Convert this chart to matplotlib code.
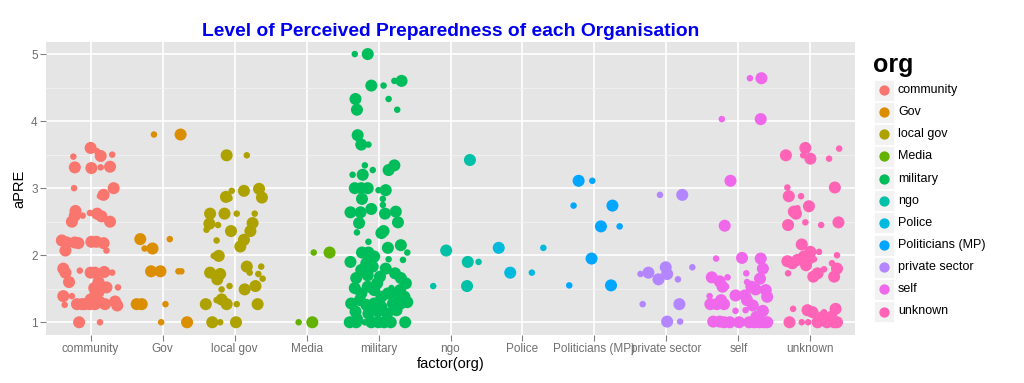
import numpy as np
import matplotlib
matplotlib.use("Agg")
import matplotlib.pyplot as plt
from matplotlib.patches import Rectangle

plt.rcParams['font.family'] = ['Liberation Sans', 'DejaVu Sans']

#   Organisations, in factor order, with the ggplot hue palette
orgs = ['community', 'Gov', 'local gov', 'Media', 'military', 'ngo', 'Police',
        'Politicians (MP)', 'private sector', 'self', 'unknown']
colors = ['#F8766D', '#DB8E00', '#AEA200', '#64B200', '#00BD5C', '#00C1A7',
          '#00BADE', '#00A6FF', '#B385FF', '#EF67EB', '#FF63B6']

#   Points: (jitter offset from category, aPRE, size group)
community = [
    (0.00, 3.60, 2), (0.14, 3.48, 2), (0.09, 3.55, 1), (0.30, 3.50, 1), (-0.24, 3.47, 1),
    (-0.22, 3.31, 2), (0.01, 3.30, 2), (0.14, 3.31, 1), (0.27, 3.32, 2), (-0.23, 3.00, 1),
    (0.32, 3.00, 2), (0.18, 2.90, 2), (0.13, 2.88, 1), (-0.21, 2.66, 2), (-0.22, 2.59, 2),
    (-0.26, 2.50, 2), (-0.11, 2.59, 1), (-0.01, 2.63, 1), (0.09, 2.62, 2), (0.15, 2.58, 2),
    (0.27, 2.50, 2), (-0.40, 2.22, 2), (-0.33, 2.19, 2), (-0.22, 2.19, 2), (-0.17, 2.18, 2),
    (-0.35, 2.07, 2), (0.01, 2.20, 2), (0.08, 2.20, 2), (0.18, 2.18, 2), (0.22, 2.07, 1),
    (-0.38, 1.80, 2), (-0.35, 1.74, 2), (-0.30, 1.60, 2), (-0.15, 1.77, 1), (0.00, 1.74, 2),
    (0.06, 1.74, 2), (0.19, 1.75, 2), (0.30, 1.74, 1), (0.05, 1.51, 2), (0.11, 1.60, 2),
    (0.22, 1.52, 2), (0.38, 1.52, 1), (-0.38, 1.39, 2), (-0.26, 1.39, 1), (-0.36, 1.26, 1),
    (-0.19, 1.27, 2), (-0.12, 1.27, 2), (-0.08, 1.27, 2), (-0.01, 1.27, 2), (0.06, 1.40, 2),
    (0.06, 1.27, 2), (0.13, 1.30, 2), (0.20, 1.27, 2), (0.34, 1.31, 2), (0.37, 1.25, 2),
    (0.11, 1.45, 2), (0.00, 1.34, 2), (-0.16, 1.00, 2), (0.13, 1.00, 1)]
gov = [
    (-0.12, 3.80, 1), (0.25, 3.80, 2), (-0.31, 2.24, 2), (-0.25, 2.10, 1), (-0.14, 2.10, 2),
    (0.10, 2.24, 1), (-0.16, 1.76, 2), (-0.03, 1.76, 2), (0.22, 1.76, 1), (0.26, 1.76, 1),
    (-0.36, 1.27, 2), (-0.29, 1.27, 2), (0.04, 1.27, 1), (-0.02, 1.00, 1), (0.34, 1.00, 2)]
local_gov = [
    (-0.11, 3.49, 2), (0.17, 3.49, 1), (-0.04, 2.96, 1), (0.13, 2.96, 2), (0.34, 2.99, 2),
    (0.38, 2.86, 2), (-0.12, 2.87, 2), (-0.07, 2.85, 1), (-0.34, 2.62, 2), (-0.14, 2.62, 2),
    (0.03, 2.62, 1), (0.28, 2.62, 1), (-0.35, 2.47, 2), (-0.39, 2.38, 1), (-0.23, 2.45, 1),
    (-0.05, 2.36, 2), (0.25, 2.48, 2), (0.22, 2.36, 2), (0.13, 2.23, 2), (0.08, 2.13, 2),
    (-0.25, 2.22, 1), (-0.22, 1.99, 2), (-0.29, 1.99, 1), (0.17, 1.83, 2), (0.37, 1.83, 1),
    (0.33, 1.72, 1), (0.39, 1.65, 1), (0.21, 1.74, 1), (-0.34, 1.74, 2), (-0.20, 1.72, 2),
    (-0.24, 1.64, 2), (-0.07, 1.54, 1), (-0.18, 1.49, 1), (0.14, 1.49, 2), (0.29, 1.54, 2),
    (-0.40, 1.27, 2), (-0.25, 1.33, 1), (-0.18, 1.34, 2), (-0.11, 1.27, 2), (0.03, 1.27, 1),
    (0.32, 1.27, 2), (-0.31, 1.00, 2), (-0.20, 1.00, 1), (0.02, 1.00, 2)]
media = [(0.10, 2.04, 1), (0.32, 2.04, 2), (-0.11, 1.00, 1), (0.08, 1.00, 2)]
military = [
    (-0.33, 5.00, 1), (-0.15, 5.00, 2), (-0.10, 4.53, 2), (0.07, 4.53, 1), (0.22, 4.60, 1),
    (0.32, 4.60, 2), (0.14, 4.33, 1), (-0.32, 4.33, 2), (-0.30, 4.17, 2), (0.26, 4.17, 1),
    (-0.29, 3.79, 2), (-0.24, 3.65, 2), (-0.14, 3.65, 1), (0.22, 3.34, 2), (0.14, 3.27, 2),
    (-0.19, 3.34, 1), (-0.08, 3.27, 1), (-0.36, 3.20, 1), (-0.22, 3.20, 2), (-0.33, 3.00, 2),
    (-0.24, 3.00, 2), (-0.15, 3.00, 2), (0.00, 2.97, 1), (0.10, 2.97, 2), (-0.23, 2.84, 2),
    (0.06, 2.84, 1), (0.06, 2.75, 1), (-0.39, 2.64, 2), (-0.25, 2.64, 2), (-0.10, 2.69, 2),
    (0.09, 2.62, 2), (0.24, 2.65, 2), (0.27, 2.49, 2), (-0.27, 2.48, 2), (-0.30, 2.34, 1),
    (0.04, 2.33, 2), (0.07, 2.36, 2), (-0.14, 2.20, 1), (0.31, 2.15, 2), (0.13, 2.11, 2),
    (0.40, 2.04, 1), (0.14, 1.94, 1), (0.34, 1.93, 1), (-0.23, 2.04, 2), (-0.14, 2.04, 2),
    (-0.06, 1.98, 2), (-0.39, 1.90, 2), (-0.17, 1.88, 2), (-0.08, 1.83, 2), (-0.24, 1.78, 2),
    (-0.15, 1.70, 2), (-0.31, 1.66, 2), (0.02, 1.68, 2), (0.23, 1.73, 2), (0.31, 1.66, 2),
    (0.38, 1.58, 2), (0.18, 1.51, 1), (-0.33, 1.51, 2), (-0.24, 1.43, 2), (-0.15, 1.53, 2),
    (-0.06, 1.48, 2), (0.04, 1.38, 2), (0.13, 1.43, 2), (0.24, 1.43, 2), (0.36, 1.38, 2),
    (-0.38, 1.28, 2), (-0.26, 1.33, 2), (-0.17, 1.26, 2), (-0.06, 1.28, 2), (0.04, 1.23, 2),
    (0.20, 1.28, 2), (0.31, 1.28, 2), (0.40, 1.30, 2), (-0.32, 1.16, 2), (-0.14, 1.13, 2),
    (-0.01, 1.16, 2), (0.12, 1.13, 2), (0.25, 1.18, 2), (-0.40, 1.00, 2), (-0.31, 1.00, 2),
    (-0.10, 1.00, 2), (0.00, 1.00, 2), (0.08, 1.00, 2), (0.17, 1.00, 2), (0.37, 1.00, 2),
    (-0.19, 1.00, 1), (0.30, 1.48, 2), (-0.02, 1.58, 2), (0.10, 1.80, 2), (-0.30, 1.05, 2)]
ngo = [(-0.06, 2.07, 2), (-0.24, 1.54, 1), (0.27, 3.42, 2), (0.24, 1.90, 2), (0.39, 1.90, 1),
       (0.23, 1.54, 2)]
police = [(-0.33, 2.11, 2), (0.29, 2.11, 1), (-0.17, 1.74, 2), (0.13, 1.74, 1)]
politicians = [
    (-0.22, 3.11, 2), (-0.03, 3.11, 1), (-0.29, 2.74, 1), (0.25, 2.74, 2), (0.09, 2.43, 2),
    (0.35, 2.43, 1), (-0.04, 1.95, 2), (-0.35, 1.55, 1), (0.23, 1.55, 2)]
private_sector = [
    (-0.09, 2.90, 1), (0.22, 2.90, 2), (-0.36, 1.72, 1), (-0.25, 1.74, 2), (-0.11, 1.64, 2),
    (-0.01, 1.82, 2), (0.01, 1.72, 2), (0.36, 1.82, 1), (0.16, 1.64, 1), (-0.33, 1.27, 1),
    (0.18, 1.27, 2), (0.01, 1.01, 2), (0.19, 1.01, 1)]
self_ = [
    (0.16, 4.64, 1), (0.32, 4.64, 2), (-0.23, 4.03, 1), (0.31, 4.03, 2), (-0.11, 3.11, 2),
    (-0.19, 2.44, 2), (-0.22, 2.45, 1), (-0.31, 1.95, 1), (0.05, 1.96, 2), (0.31, 1.95, 2),
    (-0.37, 1.67, 2), (-0.26, 1.61, 2), (-0.22, 1.53, 2), (-0.15, 1.67, 1), (-0.40, 1.39, 1),
    (-0.39, 1.27, 2), (-0.30, 1.27, 2), (-0.24, 1.33, 2), (-0.20, 1.27, 2), (0.34, 1.80, 2),
    (0.30, 1.65, 2), (0.12, 1.60, 1), (0.18, 1.53, 2), (0.24, 1.49, 2), (0.38, 1.48, 2),
    (0.40, 1.38, 2), (-0.17, 1.53, 1), (-0.04, 1.40, 2), (0.09, 1.40, 2), (0.12, 1.33, 2),
    (0.20, 1.25, 2), (-0.04, 1.17, 1), (0.34, 1.17, 2), (0.11, 1.73, 1), (-0.35, 1.01, 2),
    (-0.26, 1.01, 2), (-0.20, 1.00, 2), (-0.12, 1.00, 2), (0.01, 1.00, 2), (0.15, 1.00, 2),
    (0.22, 1.00, 2), (0.29, 1.00, 2), (0.35, 1.00, 2), (0.40, 1.00, 2), (0.25, 1.08, 2),
    (0.10, 1.18, 1)]
unknown = [
    (-0.07, 3.60, 2), (-0.10, 3.49, 1), (0.00, 3.44, 2), (-0.34, 3.49, 2), (0.40, 3.59, 1),
    (0.26, 3.44, 1), (-0.32, 3.01, 1), (-0.30, 2.88, 2), (-0.13, 2.88, 1), (0.34, 3.01, 2),
    (-0.23, 2.65, 2), (-0.18, 2.70, 1), (-0.20, 2.62, 2), (-0.02, 2.73, 2), (-0.31, 2.45, 2),
    (-0.07, 2.49, 1), (0.15, 2.45, 1), (0.39, 2.49, 2), (-0.12, 2.16, 2), (0.00, 2.05, 2),
    (0.12, 2.05, 1), (0.37, 2.00, 1), (-0.32, 1.91, 2), (-0.25, 1.88, 2), (-0.18, 1.93, 2),
    (-0.09, 1.98, 2), (-0.06, 1.85, 2), (0.01, 1.92, 1), (0.05, 1.94, 1), (-0.31, 1.73, 1),
    (0.19, 1.79, 1), (0.30, 1.88, 1), (0.37, 1.80, 2), (0.33, 1.68, 2), (0.04, 1.68, 2),
    (0.10, 1.73, 2), (-0.24, 1.20, 1), (-0.04, 1.18, 2), (0.03, 1.15, 2), (-0.29, 1.00, 2),
    (-0.12, 1.00, 1), (-0.03, 1.00, 1), (0.10, 1.00, 2), (0.17, 1.08, 2), (0.23, 1.00, 2),
    (0.29, 1.08, 2), (0.35, 1.20, 2), (0.33, 1.00, 2), (0.37, 1.00, 2), (0.19, 1.15, 1)]

allPoints = [community, gov, local_gov, media, military, ngo, police,
             politicians, private_sector, self_, unknown]

#   Figure with ggplot2-like grey panel
fig = plt.figure(figsize=(10.24, 3.83), dpi=100)
ax = fig.add_axes([46/1024, 1 - 335/383, (855 - 46)/1024, (335 - 42)/383])
ax.set_facecolor('#E5E5E5')
for s in ax.spines.values():
    s.set_visible(False)

markerSize = {1: 22, 2: 75}
for i, pts in enumerate(allPoints):
    arr = np.array(pts)
    xs = i + 1 + arr[:, 0]
    ys = arr[:, 1]
    sz = [markerSize[int(k)] for k in arr[:, 2]]
    ax.scatter(xs, ys, s=sz, color=colors[i], linewidths=0, zorder=3)

ax.set_xlim(0.38, 11.62)
ax.set_ylim(0.81, 5.18)
ax.set_xticks(range(1, len(orgs) + 1))
ax.set_xticklabels(orgs)
ax.set_yticks([1, 2, 3, 4, 5])
ax.set_yticks([1.5, 2.5, 3.5, 4.5], minor=True)
ax.grid(True, which='major', color='white', linewidth=1.2, zorder=0)
ax.grid(True, which='minor', axis='y', color='#F2F2F2', linewidth=0.6, zorder=0)
ax.set_axisbelow(True)
ax.tick_params(which='major', length=4, color='#7F7F7F', labelsize=8.5,
               labelcolor='#6E6E6E', pad=2)
ax.tick_params(which='minor', length=0)

ax.set_xlabel('factor(org)', fontsize=10.5, labelpad=1)
ax.set_ylabel('aPRE', fontsize=10.5, labelpad=3)
ax.set_title('Level of Perceived Preparedness of each Organisation', fontsize=13.9,
             fontweight='bold', color='#0000EE', pad=4)

#   Legend drawn on an overlay in pixel units
lg = fig.add_axes([0, 0, 1, 1], facecolor='none')
lg.set_xlim(0, 1024)
lg.set_ylim(383, 0)
lg.axis('off')
lg.text(873, 72, 'org', fontsize=18, fontweight='bold', ha='left', va='baseline')
for i, name in enumerate(orgs):
    yc = 90 + i * 22.15
    lg.add_patch(Rectangle((874, yc - 10.5), 20, 21, facecolor='#F2F2F2',
                           edgecolor='white', linewidth=0.6))
    lg.scatter([884], [yc], s=55, color=colors[i], linewidths=0)
    lg.text(898, yc, name, fontsize=9, ha='left', va='center')

fig.savefig('out.png', dpi=100)
